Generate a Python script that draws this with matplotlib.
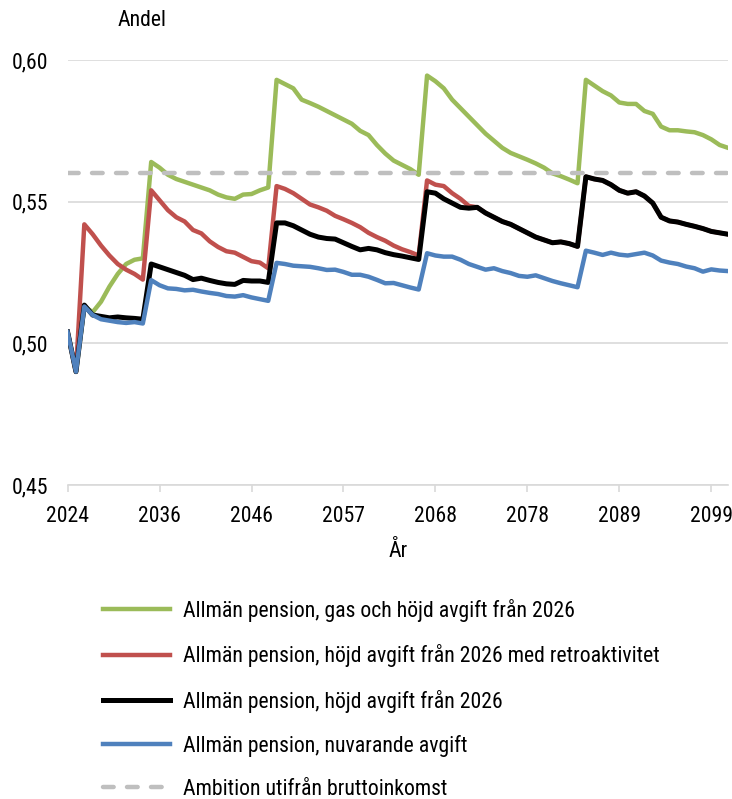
import numpy as np
import matplotlib
matplotlib.use("Agg")
import matplotlib.pyplot as plt
from matplotlib import font_manager

ar_etiketter = ["2024", "2036", "2046", "2057", "2068", "2078", "2089", "2099"]
etikett_steg = 11

gas_hojd = [
    0.504, 0.490, 0.513, 0.511, 0.5147, 0.520, 0.5245, 0.528, 0.5295, 0.530,
    0.564, 0.562, 0.5595, 0.558, 0.557, 0.556, 0.555, 0.554, 0.5525, 0.5515,
    0.551, 0.5525, 0.5527, 0.554, 0.555, 0.593, 0.5915, 0.590, 0.586, 0.5848,
    0.5835, 0.582, 0.5805, 0.579, 0.5775, 0.575, 0.5735, 0.570, 0.567, 0.5645,
    0.563, 0.5615, 0.5595, 0.5945, 0.5925, 0.590, 0.586, 0.583, 0.580, 0.577,
    0.574, 0.5715, 0.569, 0.5672, 0.566, 0.5648, 0.5635, 0.562, 0.560, 0.559,
    0.5578, 0.5565, 0.593, 0.591, 0.589, 0.5875, 0.585, 0.5845, 0.5845, 0.582,
    0.581, 0.5765, 0.5752, 0.5752, 0.5748, 0.5745, 0.5735, 0.572, 0.570, 0.569,
]

hojd = [
    0.504, 0.490, 0.5135, 0.510, 0.5095, 0.509, 0.5093, 0.509, 0.5088, 0.5085,
    0.528, 0.527, 0.526, 0.525, 0.524, 0.5225, 0.523, 0.5222, 0.5215, 0.521,
    0.5208, 0.5222, 0.522, 0.522, 0.5215, 0.5425, 0.5425, 0.5415, 0.540, 0.5385,
    0.5375, 0.537, 0.5368, 0.5355, 0.5342, 0.533, 0.5335, 0.533, 0.532, 0.5313,
    0.5308, 0.5302, 0.5296, 0.5535, 0.553, 0.551, 0.5495, 0.548, 0.5477, 0.548,
    0.546, 0.5445, 0.543, 0.542, 0.5405, 0.539, 0.5375, 0.5365, 0.5355, 0.5358,
    0.5352, 0.5342, 0.5588, 0.558, 0.5575, 0.556, 0.554, 0.553, 0.5535, 0.552,
    0.5495, 0.5445, 0.5432, 0.5428, 0.542, 0.5413, 0.5405, 0.5395, 0.539, 0.5385,
]

# retroaktiv serie sammanfaller med hojd fran ca 2072
hojd_retro = [
    0.504, 0.490, 0.542, 0.5385, 0.5345, 0.531, 0.528, 0.526, 0.5245, 0.5225,
    0.554, 0.5505, 0.547, 0.5445, 0.543, 0.540, 0.5388, 0.536, 0.534, 0.5325,
    0.532, 0.5305, 0.529, 0.5285, 0.5265, 0.5555, 0.5545, 0.553, 0.551, 0.549,
    0.548, 0.5468, 0.545, 0.5438, 0.5425, 0.541, 0.539, 0.5375, 0.5362, 0.5345,
    0.5332, 0.5322, 0.531, 0.5575, 0.556, 0.5555, 0.553, 0.551, 0.5485,
] + hojd[49:]

nuvarande = [
    0.504, 0.490, 0.513, 0.510, 0.5085, 0.508, 0.5075, 0.5072, 0.5075, 0.507,
    0.5223, 0.5205, 0.5194, 0.5192, 0.5187, 0.5189, 0.5183, 0.5178, 0.5174, 0.5167,
    0.5165, 0.517, 0.5162, 0.5156, 0.515, 0.5284, 0.528, 0.5274, 0.5272, 0.527,
    0.5265, 0.5259, 0.526, 0.5252, 0.5242, 0.5242, 0.5235, 0.5224, 0.5212, 0.5213,
    0.5205, 0.5197, 0.519, 0.5318, 0.531, 0.5306, 0.5306, 0.5295, 0.528, 0.527,
    0.526, 0.5265, 0.5255, 0.5248, 0.5238, 0.5235, 0.524, 0.523, 0.522, 0.5212,
    0.5205, 0.5198, 0.5327, 0.532, 0.5312, 0.532, 0.5313, 0.531, 0.5315, 0.532,
    0.531, 0.5292, 0.5285, 0.528, 0.5271, 0.5265, 0.5253, 0.5261, 0.5257, 0.5255,
]

ambition = 0.56

serier = [
    ("Allmän pension, gas och höjd avgift från 2026", gas_hojd, "#9BBB59", 3.2),
    ("Allmän pension, höjd avgift från 2026 med retroaktivitet", hojd_retro, "#C0504D", 3.2),
    ("Allmän pension, höjd avgift från 2026", hojd, "black", 3.6),
    ("Allmän pension, nuvarande avgift", nuvarande, "#4F81BD", 3.2),
]

# smal typsnitt om det finns, annars vanlig sans
fonter = font_manager.fontManager.ttflist
namn = {f.name for f in fonter}
familj = "DejaVu Sans"
for kandidat in ["Roboto Condensed", "Liberation Sans Narrow", "Open Sans Condensed",
                 "Noto Sans Condensed", "Liberation Sans"]:
    if kandidat in namn:
        familj = kandidat
        break
stretch = "normal"
if familj == "DejaVu Sans" and any(f.name == "DejaVu Sans" and f.stretch == "condensed" for f in fonter):
    stretch = "condensed"
plt.rcParams["font.family"] = [familj, "DejaVu Sans"]
plt.rcParams["font.stretch"] = stretch

fig = plt.figure(figsize=(7.32, 7.99), dpi=100)

# anpassa storleken sa att langsta legendtexten blir ca 474 px bred
r = fig.canvas.get_renderer()
prov = fig.text(0, 0, serier[1][0], fontsize=10)
fs = 10 * 474 / prov.get_window_extent(r).width
prov.remove()
fs = min(fs, 17.5)

ax = fig.add_axes([67.6 / 732, 1 - 485 / 799, (728 - 67.6) / 732, 425 / 799])

x = np.arange(len(nuvarande))
for etikett, varden, farg, lw in serier:
    ax.plot(x, varden, color=farg, lw=lw, label=etikett)
ax.plot(x, [ambition] * len(x), color="#BFBFBF", lw=3.2, dashes=(2.4, 3.0),
        dash_capstyle="round", label="Ambition utifrån bruttoinkomst")

ax.set_xlim(0, len(x) - 1)
ax.set_ylim(0.45, 0.60)
ax.set_yticks([0.45, 0.50, 0.55, 0.60])
ax.set_yticklabels([f"{v:.2f}".replace(".", ",") for v in ax.get_yticks()])
ax.set_xticks(np.arange(len(ar_etiketter)) * etikett_steg)
ax.set_xticklabels(ar_etiketter)

ax.yaxis.grid(True, color="#D9D9D9", lw=1.2)
ax.set_axisbelow(True)
for s in ["top", "right", "left"]:
    ax.spines[s].set_visible(False)
ax.spines["bottom"].set_color("#D9D9D9")
ax.spines["bottom"].set_linewidth(1.2)
ax.tick_params(axis="x", length=5, width=1.2, color="#D9D9D9", pad=10, labelsize=fs)
ax.tick_params(axis="y", length=0, pad=14, labelsize=fs)

ax.set_xlabel("År", fontsize=fs, labelpad=10)
fig.text(118 / 732, 1 - 20 / 799, "Andel", fontsize=fs, va="center", ha="left")

fig.legend(loc="upper left", bbox_to_anchor=(103 / 732, 1 - 599 / 799),
           frameon=False, fontsize=fs, handlelength=48 / fs, handletextpad=9.4 / fs,
           labelspacing=(31.7 - 1.0 * fs) / fs, borderpad=0, borderaxespad=0)

fig.savefig("out.png", dpi=100)
